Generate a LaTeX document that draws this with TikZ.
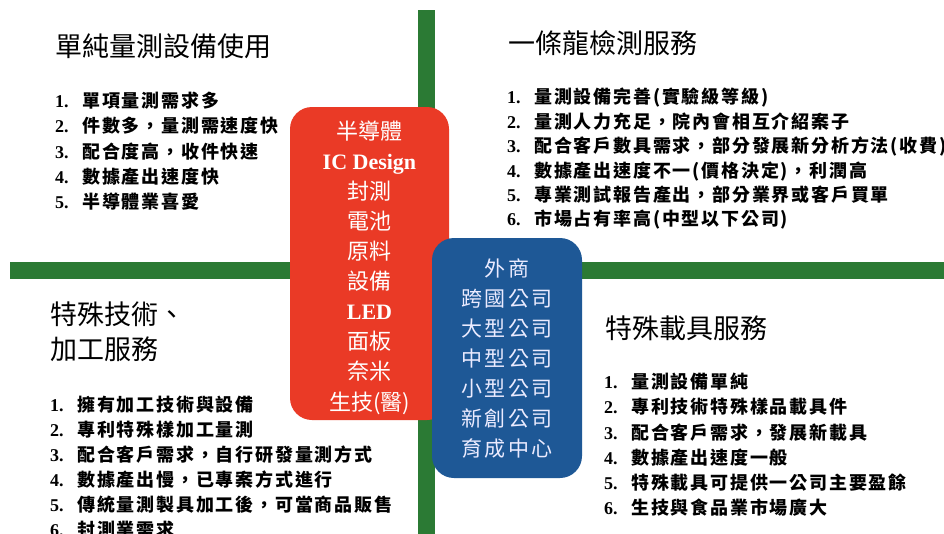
\documentclass[tikz,border=0pt]{standalone}
\usepackage{fontspec}
\setmainfont{Liberation Serif}
\newfontfamily\cjk{Noto Sans CJK TC}
\newfontfamily\cjkl{Noto Sans CJK TC}[LetterSpace=10]
\definecolor{barg}{RGB}{43,122,52}
\definecolor{boxred}{RGB}{234,58,38}
\definecolor{boxblue}{RGB}{30,88,150}
\newcommand\itm[2]{\makebox[27pt][l]{\bfseries #1}{\cjkl\bfseries #2}}
\tikzset{
  titletxt/.style={anchor=west, inner sep=0pt, align=left, font=\cjk\fontsize{27}{35}\selectfont},
  listtxt/.style={anchor=north west, inner sep=0pt, align=left, font=\fontsize{18}{25.2}\selectfont},
  panel/.style={rounded corners=22pt, inner sep=0pt},
  paneltxt/.style={inner sep=0pt, align=center, text=white, font=\fontsize{22}{30.1}\selectfont}
}
\begin{document}
\begin{tikzpicture}[x=1pt,y=-1pt]
\useasboundingbox (0,0) rectangle (944,533);
\clip (0,0) rectangle (944,533);
\fill[white] (0,0) rectangle (944,533);
% green cross
\fill[barg] (418,10) rectangle (435,545);
\fill[barg] (10,262) rectangle (955,279);
% central panels
\node[panel, fill=boxred, minimum width=159pt, minimum height=313pt] (red) at (369.5,263.5) {};
\node[paneltxt] (redtxt) at (369.5,267.5) {{\cjk 半導體}\\\textbf{IC Design}\\{\cjk 封測}\\{\cjk 電池}\\{\cjk 原料}\\{\cjk 設備}\\\textbf{LED}\\{\cjk 面板}\\{\cjk 奈米}\\{\cjk 生技(醫)}};
\node[panel, fill=boxblue, minimum width=150pt, minimum height=240pt] (blue) at (507,358) {};
\node[paneltxt, font=\cjkl\fontsize{21}{30}\selectfont, text=white!92!blue] (bluetxt) at (507,358.5) {外商\\跨國公司\\大型公司\\中型公司\\小型公司\\新創公司\\育成中心};
% quadrant 1
\node[titletxt] (t1) at (55,46) {單純量測設備使用};
\node[listtxt] (l1) at (55,92) {\itm{1.}{單項量測需求多}\\\itm{2.}{件數多，量測需速度快}\\\itm{3.}{配合度高，收件快速}\\\itm{4.}{數據產出速度快}\\\itm{5.}{半導體業喜愛}};
% quadrant 2
\node[titletxt] (t2) at (508,43) {一條龍檢測服務};
\node[listtxt, font=\fontsize{18}{24.4}\selectfont] (l2) at (507,88) {\itm{1.}{量測設備完善(實驗級等級)}\\\itm{2.}{量測人力充足，院內會相互介紹案子}\\\itm{3.}{配合客戶數具需求，部分發展新分析方法(收費)}\\\itm{4.}{數據產出速度不一(價格決定)，利潤高}\\\itm{5.}{專業測試報告產出，部分業界或客戶買單}\\\itm{6.}{市場占有率高(中型以下公司)}};
% quadrant 3
\node[titletxt, anchor=north west] (t3) at (50,302) {特殊技術、\\加工服務};
\node[listtxt, font=\fontsize{18}{25}\selectfont] (l3) at (50,396) {\itm{1.}{擁有加工技術與設備}\\\itm{2.}{專利特殊樣加工量測}\\\itm{3.}{配合客戶需求，自行研發量測方式}\\\itm{4.}{數據產出慢，已專案方式進行}\\\itm{5.}{傳統量測製具加工後，可當商品販售}\\\itm{6.}{封測業需求}};
% quadrant 4
\node[titletxt] (t4) at (605,328) {特殊載具服務};
\node[listtxt] (l4) at (604,373) {\itm{1.}{量測設備單純}\\\itm{2.}{專利技術特殊樣品載具件}\\\itm{3.}{配合客戶需求，發展新載具}\\\itm{4.}{數據產出速度一般}\\\itm{5.}{特殊載具可提供一公司主要盈餘}\\\itm{6.}{生技與食品業市場廣大}};
\end{tikzpicture}
\end{document}
